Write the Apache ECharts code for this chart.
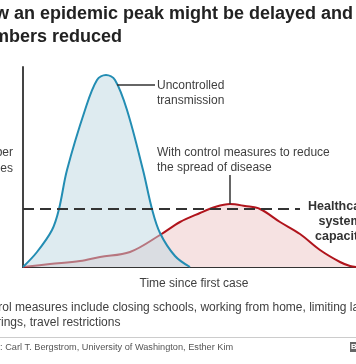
<!DOCTYPE html>
<html>
<head>
<meta charset="utf-8">
<script src="https://cdn.jsdelivr.net/npm/echarts@6/dist/echarts.min.js"></script>
<style>
html,body{margin:0;padding:0;background:#fff;}
#chart{width:356px;height:364px;}
</style>
</head>
<body>
<div id="chart"></div>
<script>
// Time since first case (arbitrary units) and number of cases (arbitrary units)
const uncontrolledTime = [0, 14, 29, 36, 44, 62, 74, 83, 92, 104, 120, 129, 137, 152, 167];
const uncontrolledCases = [0, 15, 37, 58, 97, 157, 187, 192, 187, 157, 97, 58, 34, 11, 0];
const controlledTime = [0, 27, 57, 77, 107, 137, 157, 177, 192, 207, 222, 237, 257, 277, 297, 317, 327, 333];
const controlledCases = [0, 3, 6, 10, 15, 32, 45, 54, 60, 63, 61, 58, 45, 33, 17, 5, 1, 0];
const capacityLevel = 58;
const capacityEnd = 277;
const uncontrolledLeader = [[94, 182], [132, 182]];
const controlledLeader = [[207, 63], [207, 92]];

const titleText = 'How an epidemic peak might be delayed and\nnumbers reduced';
const yAxisName = 'Number\nof cases';
const xAxisName = 'Time since first case';
const uncontrolledLabel = 'Uncontrolled\ntransmission';
const controlledLabel = 'With control measures to reduce\nthe spread of disease';
const capacityLabel = 'Healthcare\nsystem\ncapacity';
const footnoteLines = ['Control measures include closing schools, working from home, limiting large', 'gatherings, travel restrictions'];
const sourceText = 'Source: Carl T. Bergstrom, University of Washington, Esther Kim';

const FONT = '"Liberation Sans", Arial, Helvetica, sans-serif';
const zip = (a, b) => a.map((v, i) => [v, b[i]]);

const chart = echarts.init(document.getElementById('chart'), null, {renderer: 'canvas'});
chart.setOption({
  backgroundColor: '#ffffff',
  animation: false,
  grid: {left: 23, right: 0, top: 67, bottom: 97},
  xAxis: {
    type: 'value', min: 0, max: 333,
    axisLine: {show: true, lineStyle: {color: '#333', width: 2}},
    axisTick: {show: false}, axisLabel: {show: false}, splitLine: {show: false}
  },
  yAxis: {
    type: 'value', min: 0, max: 200,
    axisLine: {show: true, lineStyle: {color: '#444', width: 2}},
    axisTick: {show: false}, axisLabel: {show: false}, splitLine: {show: false}
  },
  series: [
    {
      type: 'line', name: 'controlled', smooth: 0.35, symbol: 'none', z: 2,
      data: zip(controlledTime, controlledCases),
      lineStyle: {color: '#b0141c', width: 2},
      areaStyle: {color: '#f6e2e2', opacity: 1}
    },
    {
      type: 'line', name: 'uncontrolled', smooth: 0.35, symbol: 'none', z: 3,
      data: zip(uncontrolledTime, uncontrolledCases),
      lineStyle: {color: '#238db3', width: 2},
      areaStyle: {color: 'rgba(190,216,225,0.5)', opacity: 1}
    },
    {
      type: 'line', name: 'capacity', symbol: 'none', z: 4,
      data: [[0, capacityLevel], [capacityEnd, capacityLevel]],
      lineStyle: {color: '#333', width: 2, type: [11, 6]}
    },
    {
      type: 'line', name: 'leader1', symbol: 'none', z: 4,
      data: uncontrolledLeader,
      lineStyle: {color: '#333', width: 1.5}
    },
    {
      type: 'line', name: 'leader2', symbol: 'none', z: 4,
      data: controlledLeader,
      lineStyle: {color: '#333', width: 1.5}
    }
  ],
  graphic: [
    {type: 'text', x: -29, y: 3, style: {text: titleText, font: 'bold 18px ' + FONT, fill: '#222', lineHeight: 22.5, verticalAlign: 'top', align: 'left'}},
    {type: 'text', x: 13, y: 145, style: {text: yAxisName, font: '12px ' + FONT, fill: '#404040', lineHeight: 16, verticalAlign: 'top', align: 'right'}},
    {type: 'text', x: 157, y: 78.5, style: {text: uncontrolledLabel, font: '12px ' + FONT, fill: '#404040', lineHeight: 15, verticalAlign: 'top', align: 'left'}},
    {type: 'text', x: 157, y: 145.5, style: {text: controlledLabel, font: '12px ' + FONT, fill: '#404040', lineHeight: 15, verticalAlign: 'top', align: 'left'}},
    {type: 'text', x: 340, y: 199.5, style: {text: capacityLabel, font: 'bold 12.5px ' + FONT, fill: '#333', lineHeight: 15, verticalAlign: 'top', align: 'center'}},
    {type: 'text', x: 194, y: 284, style: {text: xAxisName, font: '12px ' + FONT, fill: '#404040', verticalAlign: 'middle', align: 'center'}},
    {type: 'text', x: -27, y: 308, style: {text: footnoteLines[0], font: '12px ' + FONT, fill: '#404040', verticalAlign: 'middle', align: 'left'}},
    {type: 'text', x: -33, y: 323, style: {text: footnoteLines[1], font: '12px ' + FONT, fill: '#404040', verticalAlign: 'middle', align: 'left'}},
    {type: 'rect', shape: {x: 0, y: 337, width: 356, height: 1}, style: {fill: '#cccccc'}},
    {type: 'text', x: -29, y: 347, style: {text: sourceText, font: '9.2px ' + FONT, fill: '#555', verticalAlign: 'middle', align: 'left'}},
    {type: 'rect', shape: {x: 350, y: 342, width: 8, height: 10}, style: {fill: '#666'}},
    {type: 'text', x: 354, y: 347, style: {text: 'B', font: 'bold 8px ' + FONT, fill: '#fff', verticalAlign: 'middle', align: 'center'}}
  ]
});
</script>
</body>
</html>
